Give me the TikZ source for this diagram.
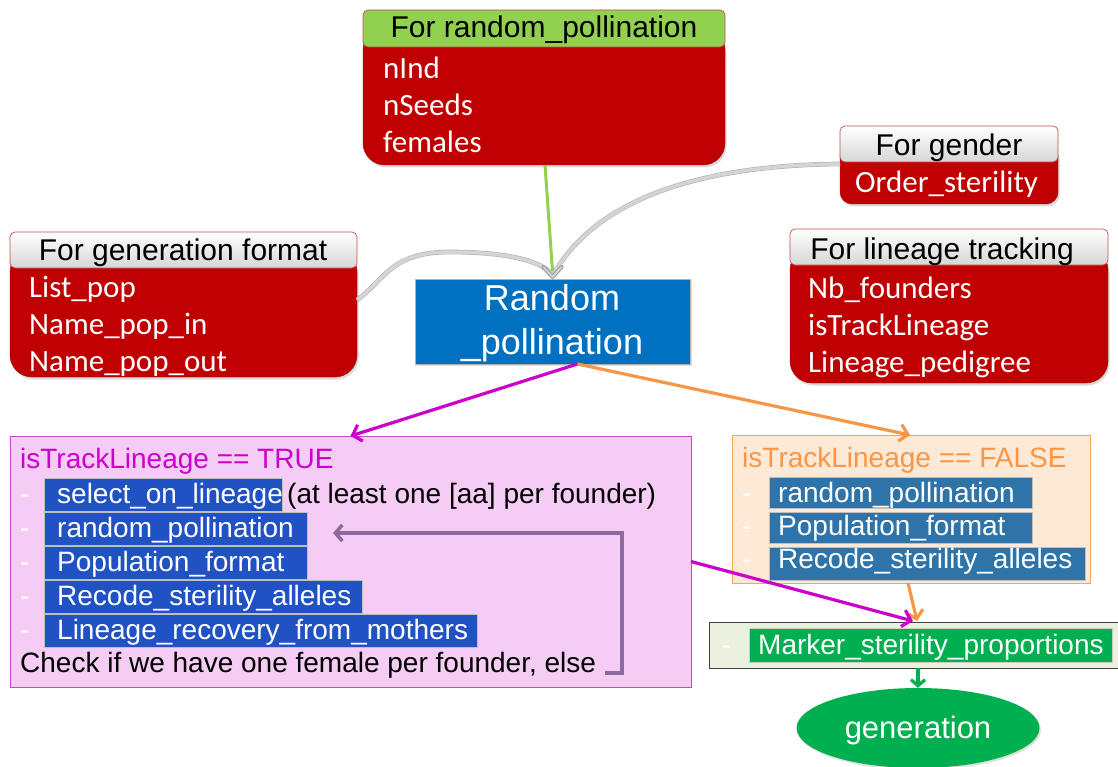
\documentclass[tikz,border=0pt]{standalone}
\usepackage{fontspec}
\setmainfont{Liberation Sans}
\newfontfamily\calfont{Carlito}
\usetikzlibrary{shapes.geometric,arrows.meta,shadows,calc}
\newcommand\fsz[1]{\fontsize{#1}{#1}\selectfont}
\definecolor{redbody}{HTML}{C00000}
\definecolor{hdrborder}{HTML}{C0504D}
\definecolor{hdrgreen}{HTML}{92D050}
\definecolor{rpblue}{HTML}{0070C0}
\definecolor{pinkfill}{HTML}{F4CCF4}
\definecolor{pinkborder}{HTML}{CC44CC}
\definecolor{magtext}{HTML}{CC00CC}
\definecolor{bboxa}{HTML}{2152C4}
\definecolor{orfill}{HTML}{FDE9D6}
\definecolor{orborder}{HTML}{F9A54B}
\definecolor{ortext}{HTML}{F79646}
\definecolor{bboxb}{HTML}{2E74A8}
\definecolor{mkfill}{HTML}{EBF1DE}
\definecolor{mgreen}{HTML}{00B050}
\definecolor{loopc}{HTML}{8C6A9E}
\definecolor{graycon}{HTML}{D4D4D4}
\begin{document}
\begin{tikzpicture}[x=1pt,y=-1pt,
  box/.style={anchor=north west, inner sep=0pt, outer sep=0pt},
  hdr/.style={box, draw=hdrborder, line width=0.7pt, rounded corners=5pt, top color=white, bottom color=black!16},
  body/.style={box, fill=redbody, rounded corners=22pt, draw=redbody!85!black, line width=0.4pt,
    drop shadow={shadow xshift=1.5pt,shadow yshift=-2.5pt,opacity=0.3}},
  htxt/.style={anchor=base, font=\fsz{30}, text=black, inner sep=0pt},
  rtxt/.style={anchor=base west, font=\calfont\fsz{31}, text=white, inner sep=0pt},
  atxt/.style={anchor=base west, font=\fsz{28}, inner sep=0pt},
  wtxt/.style={atxt, text=white},
  rowa/.style={box, fill=bboxa, draw=black!25, line width=0.6pt},
  rowb/.style={box, fill=bboxb, draw=black!25, line width=0.6pt},
  dashtxt/.style={atxt, text=white},
  con/.style={line width=3.2pt, -{Straight Barb[length=8pt,width=17pt]}},
  graylink/.style={draw=black!30, double=graycon, double distance=3.5pt, line width=0.6pt},
]
\useasboundingbox (0,0) rectangle (1118,767);

% ---------- top box: For random_pollination
\node[body, minimum width=362pt, minimum height=137pt] (rpb) at (363,28) {};
\node[hdr, top color=hdrgreen, bottom color=hdrgreen, minimum width=362pt, minimum height=37pt] (rph) at (363,10) {};
\node[htxt] (rpht) at (544,38) {For random\_pollination};
\node[rtxt] (t1) at (383,79) {nInd};
\node[rtxt] (t2) at (383,116) {nSeeds};
\node[rtxt] (t3) at (383,153) {females};

% ---------- For gender
\node[body, minimum width=218pt, minimum height=60pt, rounded corners=12pt] (gb) at (840,144) {};
\node[hdr, minimum width=218pt, minimum height=36pt] (gh) at (840,126) {};
\node[htxt] (ght) at (949,156) {For gender};
\node[rtxt] (t4) at (855,193) {Order\_sterility};

% ---------- For generation format
\node[body, minimum width=347pt, minimum height=127pt] (fb) at (10,250) {};
\node[hdr, minimum width=347pt, minimum height=36pt] (fh) at (10,232) {};
\node[htxt] (fht) at (183,261) {For generation format};
\node[rtxt] (t5) at (29,297) {List\_pop};
\node[rtxt] (t6) at (29,334) {Name\_pop\_in};
\node[rtxt] (t7) at (29,371) {Name\_pop\_out};

% ---------- For lineage tracking
\node[body, minimum width=318pt, minimum height=135pt] (lb) at (790,248) {};
\node[hdr, minimum width=318pt, minimum height=36pt] (lh) at (790,229) {};
\node[htxt] (lht) at (942,259) {For lineage tracking};
\node[rtxt] (t8) at (808,298) {Nb\_founders};
\node[rtxt] (t9) at (808,335) {isTrackLineage};
\node[rtxt] (t10) at (808,372) {Lineage\_pedigree};

% ---------- Random pollination
\node[box, fill=rpblue, draw=black!30, line width=0.6pt, minimum width=275pt, minimum height=85pt,
  drop shadow={shadow xshift=1.5pt,shadow yshift=-2pt,opacity=0.25}] (rp) at (415,279) {};
\node[anchor=base, font=\fsz{36}, text=white, inner sep=0pt] (rpt1) at (552,310) {Random};
\node[anchor=base, font=\fsz{36}, text=white, inner sep=0pt] (rpt2) at (552,354) {\_pollination};

% ---------- Pink box (TRUE)
\node[box, fill=pinkfill, draw=pinkborder, line width=1pt, minimum width=681pt, minimum height=251pt] (pk) at (10,436) {};
\node[atxt, text=magtext] (pkt) at (20,468) {isTrackLineage == TRUE};
\node[rowa, minimum width=238pt, minimum height=33pt] (ra1) at (44,478) {};
\node[rowa, minimum width=263pt, minimum height=33pt] (ra2) at (44,512) {};
\node[rowa, minimum width=263pt, minimum height=33pt] (ra3) at (44,546) {};
\node[rowa, minimum width=318pt, minimum height=33pt] (ra4) at (44,580) {};
\node[rowa, minimum width=433pt, minimum height=33pt] (ra5) at (44,614) {};
\foreach \yy/\nm in {503/da1,537/da2,571/da3,605/da4,639/da5}
  \node[dashtxt] (\nm) at (20,\yy) {-};
\node[wtxt] (ta1) at (57,503) {select\_on\_lineage};
\node[atxt] (ta1b) at (287,503) {(at least one [aa] per founder)};
\node[wtxt] (ta2) at (57,537) {random\_pollination};
\node[wtxt] (ta3) at (57,571) {Population\_format};
\node[wtxt] (ta4) at (57,605) {Recode\_sterility\_alleles};
\node[wtxt] (ta5) at (57,639) {Lineage\_recovery\_from\_mothers};
\node[atxt] (chk) at (20,672) {Check if we have one female per founder, else};

% loop arrow
\coordinate (lp0) at (605,673);
\coordinate (lp1) at (622,673);
\coordinate (lp2) at (622,533);
\coordinate (lp3) at (333,533);
\draw[loopc, line width=3.5pt, -{Straight Barb[length=7pt,width=16pt]}] (lp0) -- (lp1) -- (lp2) -- (lp3);

% ---------- Orange box (FALSE)
\node[box, fill=orfill, draw=orborder, line width=1pt, minimum width=358pt, minimum height=148pt] (ob) at (732,435) {};
\node[atxt, text=ortext] (obt) at (742,467) {isTrackLineage == FALSE};
\node[rowb, minimum width=263pt, minimum height=31pt] (rb1) at (769,477) {};
\node[rowb, minimum width=263pt, minimum height=31pt] (rb2) at (769,512) {};
\node[rowb, minimum width=316pt, minimum height=33pt] (rb3) at (769,547) {};
\foreach \yy/\nm in {502/db1,535/db2,568/db3}
  \node[dashtxt] (\nm) at (742,\yy) {-};
\node[wtxt] (tb1) at (778,502) {random\_pollination};
\node[wtxt] (tb2) at (778,535) {Population\_format};
\node[wtxt] (tb3) at (778,568) {Recode\_sterility\_alleles};

% ---------- Marker box
\node[box, fill=mkfill, draw=black!75, line width=1pt, minimum width=420pt, minimum height=46pt] (mk) at (709,622) {};
\node[box, fill=mgreen, draw=black!20, line width=0.6pt, minimum width=363pt, minimum height=34pt] (mki) at (749,628) {};
\node[dashtxt] (dm) at (722,654) {-};
\node[wtxt] (tm) at (758,654) {Marker\_sterility\_proportions};

% ---------- generation ellipse
\node[ellipse, fill=mgreen, minimum width=243pt, minimum height=80pt, inner sep=0pt,
  drop shadow={shadow xshift=1.5pt,shadow yshift=-2pt,opacity=0.25}] (gen) at (918,728) {};
\node[anchor=base, font=\fsz{31}, text=white, inner sep=0pt] (gent) at (918,738) {generation};

% ---------- connectors
\coordinate (rptop) at ($(rp.north)+(0,-3)$);
\draw[hdrgreen, line width=3pt] ($(rpb.south)+(1,0)$) -- ($(rp.north)+(0,-8)$);
\draw[graylink] ($(fb.north east)+(0,50)$) .. controls (385,280) and (390,252) .. (450,252)
   .. controls (510,252) and (545,262) .. (rptop);
\draw[graylink] ($(gb.north west)+(0,20)$) .. controls (720,165) and (600,190) .. (rptop);
\draw[black!40, line width=4pt, line cap=round, line join=round] ($(rp.north)+(-9,-12)$) -- ($(rp.north)+(0,-2)$) -- ($(rp.north)+(9,-12)$);
\draw[graycon, line width=2pt, line cap=round, line join=round] ($(rp.north)+(-9,-12)$) -- ($(rp.north)+(0,-2)$) -- ($(rp.north)+(9,-12)$);

\draw[magtext, con] ($(rp.south)+(25,0)$) -- ($(pk.north)+(0,0)$);
\draw[ortext, con] ($(rp.south)+(25,0)$) -- ($(ob.north)+(-1,0)$);
\draw[ortext, con] ($(ob.south)+(-3,0)$) -- ($(mk.north)+(-2,-1)$);
\draw[magtext, con] ($(pk.east)+(0,0)$) -- ($(mk.north)+(-6,-1)$);
\draw[mgreen, con, -{Straight Barb[length=6pt,width=14pt]}] (mk.south -| gen.north) -- (gen.north);
\end{tikzpicture}
\end{document}
